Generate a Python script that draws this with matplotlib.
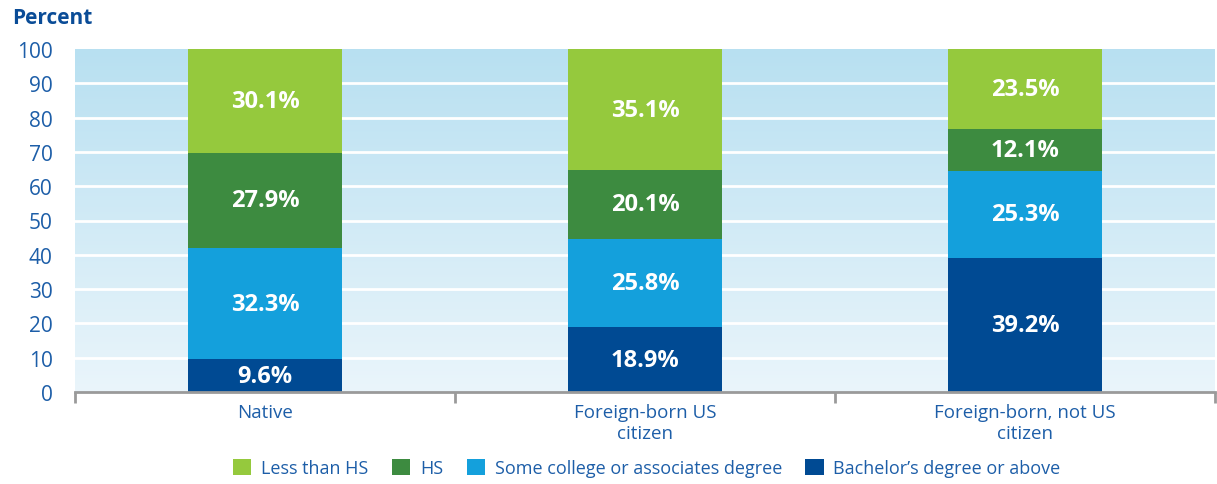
import numpy as np
import matplotlib
matplotlib.use("Agg")
import matplotlib.pyplot as plt
from matplotlib.colors import LinearSegmentedColormap
from matplotlib.patches import Patch

matplotlib.rcParams['font.family'] = ['Open Sans', 'DejaVu Sans']

groups = ["Native", "Foreign-born US\ncitizen", "Foreign-born, not US\ncitizen"]
series = ["Less than HS", "HS", "Some college or associates degree",
          "Bachelor\u2019s degree or above"]
# stacked bottom-up: bachelor's, some college, HS, less than HS
bachelor = [9.6, 18.9, 39.2]
some_college = [32.3, 25.8, 25.3]
hs = [27.9, 20.1, 12.1]
less_hs = [30.1, 35.1, 23.5]

colors = {
    "Less than HS": "#95c93d",
    "HS": "#3d8b40",
    "Some college or associates degree": "#14a0dc",
    "Bachelor\u2019s degree or above": "#004a93",
}
tick_color = "#1d5ea8"

fig = plt.figure(figsize=(12.17, 4.85), dpi=100)
ax = fig.add_axes([75 / 1217, 92 / 485, 1140 / 1217, 343 / 485])

# background gradient, darker at the top
cmap = LinearSegmentedColormap.from_list("bg", ["#eaf5fb", "#b8e0f1"])
grad = np.linspace(0, 1, 256).reshape(-1, 1)
ax.imshow(grad, extent=(-0.5, 2.5, 0, 100), origin="lower", aspect="auto",
          cmap=cmap, zorder=0)
for yv in range(10, 100, 10):
    ax.axhline(yv, color="white", lw=2, zorder=1)

x = np.arange(len(groups))
width = 0.403
stack = [("Bachelor\u2019s degree or above", bachelor),
         ("Some college or associates degree", some_college),
         ("HS", hs),
         ("Less than HS", less_hs)]
bottom = np.zeros(len(groups))
for name, vals in stack:
    vals = np.array(vals)
    ax.bar(x, vals, width, bottom=bottom, color=colors[name], zorder=2)
    for xi, b, v in zip(x, bottom, vals):
        ax.text(xi, b + v / 2, f"{v:.1f}%", ha="center", va="center",
                color="white", fontsize=17, fontweight="bold", zorder=3)
    bottom = bottom + vals

ax.set_xlim(-0.5, 2.5)
ax.set_ylim(0, 100)
ax.set_yticks(range(0, 101, 10))
ax.tick_params(axis="y", length=0, labelsize=15, labelcolor=tick_color, pad=16)
ax.set_xticks(x)
ax.set_xticklabels(groups)
ax.tick_params(axis="x", length=0, labelsize=13.5, labelcolor=tick_color, pad=8)
ax.set_xticks([-0.5, 0.5, 1.5, 2.5], minor=True)
ax.tick_params(axis="x", which="minor", length=8, width=2, color="#9a9a9a")
for s in ["left", "right", "top"]:
    ax.spines[s].set_visible(False)
ax.spines["bottom"].set_color("#9a9a9a")
ax.spines["bottom"].set_linewidth(2)
ax.spines["bottom"].set_zorder(4)

fig.text(12 / 1217, 1 - 18 / 485, "Percent", fontsize=15, fontweight="bold",
         color="#0a4c97", ha="left", va="center")

handles = [Patch(facecolor=colors[s], label=s) for s in series]
leg = fig.legend(handles=handles, loc="center", bbox_to_anchor=(647 / 1217, 1 - 469 / 485),
                 ncol=4, frameon=False, fontsize=13, handlelength=1.0, handleheight=1.0,
                 handletextpad=0.55, columnspacing=1.3)
for t in leg.get_texts():
    t.set_color(tick_color)

fig.savefig("out.png", dpi=100)
